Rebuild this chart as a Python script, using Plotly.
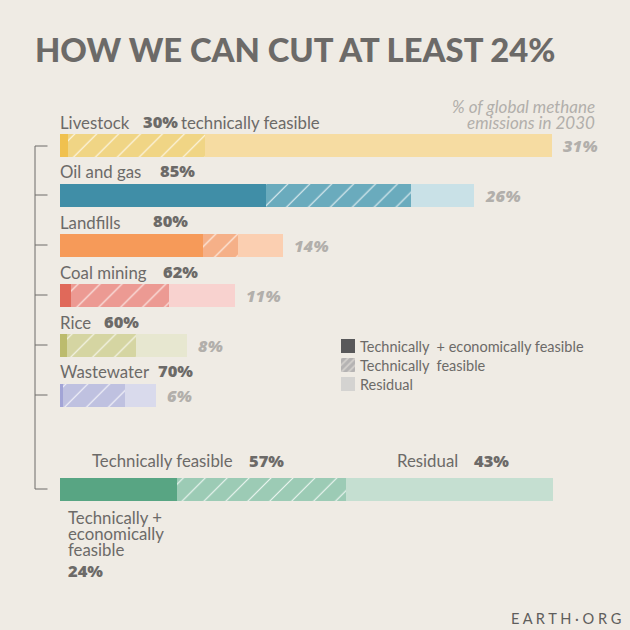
import plotly.graph_objects as go

# values, % of global methane emissions in 2030
sectors = ['Livestock', 'Oil and gas', 'Landfills', 'Coal mining', 'Rice', 'Wastewater']
feasible_labels = ['30%', '85%', '80%', '62%', '60%', '70%']
share_labels = ['31%', '26%', '14%', '11%', '8%', '6%']
econ = [0.55, 13.0, 9.0, 0.7, 0.5, 0.2]
tech = [8.6, 9.1, 2.25, 6.2, 4.3, 3.95]
residual = [21.85, 3.95, 2.8, 4.15, 3.2, 1.9]

econ_colors = ['#f0c14f', '#408ea7', '#f69a59', '#e0695a', '#bcbb6d', '#a2a4d6']
tech_colors = ['#f0d585', '#6aabbd', '#f5b088', '#ec9a93', '#d5d5a2', '#bfc1e0']
residual_colors = ['#f6dca2', '#c9e1e7', '#fbcfb1', '#f8d2cf', '#e7e7d0', '#d9daec']

# all sectors together, % of the total
total_name = ['All sectors']
total_econ = [23.8]
total_tech = [34.3]
total_residual = [41.9]

legend_names = ['Technically  + economically feasible', 'Technically  feasible', 'Residual']
legend_colors = ['#58585a', '#b5b3b3', '#d4d3d1']

BG = '#efebe4'
DARK = '#6c6a68'
GREY = '#b2afab'
W = 630

# layout helpers, pixels measured from the top left of the page
PX_PER_SHARE = 15.9
PX_PER_TOTAL = 4.93
ZERO = 59.5


def py(y):
    return 1 - y / W


def hatch(color):
    return dict(shape='/', fgcolor='#ffffff', fgopacity=0.85, bgcolor=color, size=15.5, solidity=0.07)


fig = go.Figure()

fig.add_trace(go.Bar(y=sectors, x=econ, orientation='h', name='Technically + economically feasible',
                     marker=dict(color=econ_colors, line_width=0), showlegend=False))
# one trace per sector: an array of colours makes plotly ignore the white hatch
for i, sector in enumerate(sectors):
    fig.add_trace(go.Bar(y=[sector], x=[tech[i]], orientation='h', name='Technically feasible',
                         marker=dict(color=tech_colors[i], line_width=0, pattern=hatch(tech_colors[i])),
                         showlegend=False))
fig.add_trace(go.Bar(y=sectors, x=residual, orientation='h', name='Residual',
                     marker=dict(color=residual_colors, line_width=0), showlegend=False))

for name, vals, color, pattern in [
    ('Technically + economically feasible', total_econ, '#58a583', None),
    ('Technically feasible', total_tech, '#9ccbb5', hatch('#9ccbb5')),
    ('Residual', total_residual, '#c5dfd1', None),
]:
    marker = dict(color=color, line_width=0)
    if pattern:
        marker['pattern'] = pattern
    fig.add_trace(go.Bar(y=total_name, x=vals, orientation='h', name=name, marker=marker,
                         xaxis='x2', yaxis='y2', showlegend=False))

# legend keys are small bars of their own so the hatch matches
for i, name in enumerate(legend_names):
    marker = dict(color=legend_colors[i], line_width=0)
    if i == 1:
        marker['pattern'] = dict(shape='/', fgcolor=BG, bgcolor=legend_colors[i], size=5, solidity=0.35)
    fig.add_trace(go.Bar(y=[name], x=[1], width=[0.75], orientation='h', name=name, marker=marker,
                         xaxis='x3', yaxis='y3', showlegend=False))

annotations = []


def text(x, y, s, size=16.8, color=DARK, family='Lato', anchor='left', weight=None, italic=False):
    # annotations carry 2px of padding, take it back off the left edge
    annotations.append(dict(
        x=x / W, y=py(y), xref='paper', yref='paper', text=s, showarrow=False,
        xanchor=anchor, yanchor='middle', xshift=-2 if anchor == 'left' else 2, align=anchor,
        font=dict(size=size, color=color, family=family, weight=weight,
                  style='italic' if italic else 'normal'),
    ))


def pct(x, y, s):
    text(x, y - 1, s, size=16.5, family='Open Sans', weight=800)


text(35, 50, 'HOW WE CAN CUT AT LEAST 24%', size=32.8, family='Lato', weight=900)
text(595, 106, '% of global methane', size=17, color=GREY, anchor='right', italic=True)
text(595, 123, 'emissions in 2030', size=17, color=GREY, anchor='right', italic=True)

label_rows = [123, 172, 222, 272, 322, 371]
pct_x = [143, 160, 153, 163, 104, 158]
for i, sector in enumerate(sectors):
    text(60, label_rows[i], sector)
    pct(pct_x[i], label_rows[i], feasible_labels[i])
    annotations.append(dict(
        x=econ[i] + tech[i] + residual[i], y=sector, xref='x', yref='y', text=share_labels[i],
        showarrow=False, xanchor='left', yanchor='middle', xshift=9, yshift=0,
        font=dict(size=16.5, color=GREY, family='Open Sans', weight=800, style='italic'),
    ))
text(181, 123, 'technically feasible')

text(92, 461, 'Technically feasible')
pct(249, 461, '57%')
text(397, 461, 'Residual')
pct(474, 461, '43%')

text(68, 517, 'Technically +')
text(68, 533, 'economically')
text(68, 549, 'feasible')
pct(68, 571, '24%')

for y, name in zip([346, 365, 384], legend_names):
    text(360, y, name, size=14.5)

text(622, 618, 'E A R T H · O R G', size=14.6, anchor='right', color='#5f5e5c', family='Lato')

# bracket on the left
bracket = [146, 195, 245, 295, 345, 395, 489]
shapes = [dict(type='line', xref='paper', yref='paper', x0=35 / W, x1=35 / W, y0=py(bracket[0]), y1=py(bracket[-1]),
               line=dict(color=DARK, width=1))]
for y in bracket:
    shapes.append(dict(type='line', xref='paper', yref='paper', x0=35 / W, x1=47.5 / W, y0=py(y), y1=py(y),
                       line=dict(color=DARK, width=1)))

hidden = dict(visible=False, fixedrange=True)
fig.update_layout(
    width=W,
    height=W,
    margin=dict(l=0, r=0, t=0, b=0),
    paper_bgcolor=BG,
    plot_bgcolor=BG,
    barmode='stack',
    bargap=0.54,
    showlegend=False,
    annotations=annotations,
    shapes=shapes,
    xaxis=dict(range=[-ZERO / PX_PER_SHARE, (W - ZERO) / PX_PER_SHARE], domain=[0, 1], **hidden),
    yaxis=dict(domain=[py(420), py(121)], autorange='reversed', type='category',
               categoryorder='array', categoryarray=sectors, **hidden),
    xaxis2=dict(range=[-ZERO / PX_PER_TOTAL, (W - ZERO) / PX_PER_TOTAL], domain=[0, 1], anchor='y2', **hidden),
    yaxis2=dict(domain=[py(514), py(464)], anchor='x2', type='category', **hidden),
    xaxis3=dict(range=[0, 1], domain=[341 / W, 355 / W], anchor='y3', **hidden),
    yaxis3=dict(domain=[py(393.5), py(337)], anchor='x3', autorange='reversed', type='category', **hidden),
)

fig.write_html('out.html', config=dict(displayModeBar=False),
               post_script="document.body.style.margin='0';document.body.style.overflow='hidden';")
